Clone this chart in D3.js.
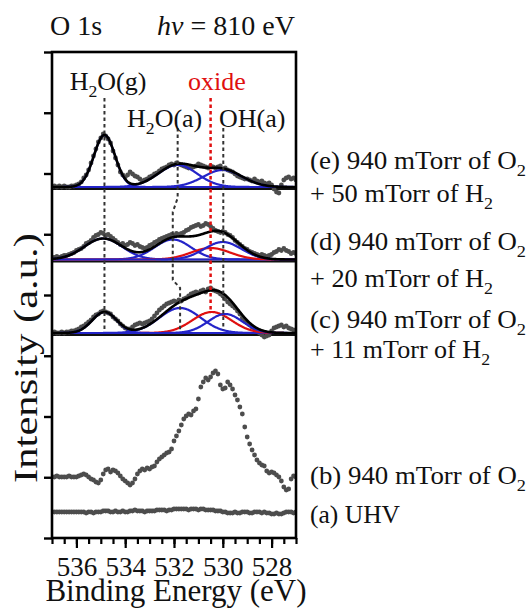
<!DOCTYPE html>
<html>
<head>
<meta charset="utf-8">
<script src="https://cdn.jsdelivr.net/npm/d3@7"></script>
<style>
  html, body { margin: 0; padding: 0; background: #fff; }
</style>
</head>
<body>
<svg id="chart" width="529" height="609"></svg>
<script>
const SERIF = "'Liberation Serif', 'Times New Roman', Times, 'Nimbus Roman', 'DejaVu Serif', serif";

// ---- measurement grid: binding energy from 537.0 eV downward in 0.1 eV steps
const eStart = 537.0, eStep = 0.1;

// ---- O 1s spectra (intensity above each trace's own baseline, a.u.)
// (a) UHV
const specUHV = [0,0,0,0,0,0,0,0,0,0,
  0,0,0,0,-1,0,0,-1,0,0,
  0,1,1,1,0,0,1,0,0,1,
  0,0,1,1,2,1,1,1,0,1,
  1,1,1,2,2,2,2,1,2,2,
  3,3,3,3,3,3,2,3,3,3,
  2,3,3,2,2,2,2,1,1,1,
  0,0,-1,-1,-1,0,-1,-1,0,0,
  0,-1,-1,0,0,0,-1,0,-1,-1,
  -2,-2,-1,-2,-2,-1,0,0,0,-1,0];
// (b) 940 mTorr O2
const specO2 = [0,0,1,0,0,0,0,1,0,0,
  0,1,2,3,2,0,-2,-3,-5,-6,
  -3,3,7,8,5,7,6,4,1,-2,
  -4,-6,-8,-6,-2,3,6,8,7,9,
  8,10,11,15,18,20,22,24,25,28,
  36,41,46,52,58,61,63,62,66,68,
  78,90,95,99,97,100,104,106,103,92,
  88,89,95,92,88,82,77,70,63,50,
  40,33,27,22,17,14,12,11,6,4,
  5,4,2,0,-4,-10,-13,-12,-2,1,0];
// (c) O2 + 11 mTorr H2
const specH2_11 = [0,1,0,0,1,0,1,1,2,2,
  3,4,6,7,9,11,13,16,18,19,
  21,22,21,20,19,16,14,12,9,7,
  5,4,4,6,8,9,10,9,10,11,
  12,14,17,20,23,25,27,29,30,31,
  32,31,33,32,34,35,37,39,40,41,
  40,42,43,41,44,45,43,42,41,39,
  37,34,31,29,27,25,22,19,15,12,
  10,8,6,4,2,0,-2,-4,-3,-2,
  2,5,6,7,8,6,7,5,4,3,2];
// (d) O2 + 20 mTorr H2
const specH2_20 = [2,2,3,2,3,4,4,5,6,7,
  9,10,11,13,16,17,19,22,24,25,
  27,26,24,25,23,21,19,17,15,16,
  14,15,17,16,14,15,13,12,11,12,
  14,15,17,18,20,21,22,23,24,25,
  24,26,25,26,27,29,30,32,33,34,
  35,33,34,36,35,33,31,29,28,27,
  28,27,25,24,22,19,17,15,13,11,
  10,8,7,6,5,4,5,4,3,4,
  5,7,8,10,9,11,9,8,6,7,6];
// (e) O2 + 50 mTorr H2
const specH2_50 = [0,1,0,1,0,1,0,0,1,1,
  2,3,5,9,12,17,24,31,38,45,
  49,53,51,48,44,36,29,22,15,12,
  10,12,15,13,11,10,8,6,7,8,
  10,11,13,14,16,18,19,20,22,23,
  22,24,23,22,21,20,19,19,20,21,
  23,22,21,20,19,21,20,19,20,21,
  18,19,17,16,15,13,11,10,9,8,
  8,7,6,8,6,5,6,4,3,4,
  2,-2,-5,-6,2,7,9,10,8,9,7];

// vertical offset of each trace in the stack (a.u.)
const traceOffsets = [26, 61, 205, 278.5, 351];

// ---- Gaussian fit components: H2O(g), H2O(a), oxide, OH(a)
const peakColors = ["#2424c8", "#2424c8", "#e01010", "#2424c8"];
const centersC = [534.85, 531.75, 530.45, 529.9];
const heightsC = [21, 25, 21, 19];
const widthsC  = [0.5, 0.85, 0.8, 0.7];
const centersD = [534.9, 532.05, 530.5, 530.0];
const heightsD = [21, 20, 11.5, 17.5];
const widthsD  = [0.78, 0.75, 0.8, 0.76];
const centersE = [534.85, 531.85, 530.5, 530.0];
const heightsE = [52, 22, 0, 17];
const widthsE  = [0.43, 0.8, 0.8, 0.8];

// ---- peak-position guides (energy, a.u.)
const guideH2Og  = [[534.85, 440], [534.85, 208]];
const guideH2Oa  = [[531.85, 410], [531.85, 340], [532.05, 326], [532.05, 258], [531.75, 250], [531.75, 208]];
const guideOxide = [[530.5, 440], [530.5, 226]];
const guideOH    = [[529.98, 410], [529.98, 208]];

// ---- axis ticks
const xMajorTicks = [536, 534, 532, 530, 528];
const xMinorTicks = d3.range(527, 537.001, 0.5);
const yTicks = d3.range(0, 487, 486 / 8);

// ---- condition labels (baseline, text, subscript, drawn length)
const condLabels = [
  [169, "(e) 940 mTorr of O", "2", 216],
  [202, "+ 50 mTorr of H", "2", 183],
  [250, "(d) 940 mTorr of O", "2", 216],
  [287, "+ 20 mTorr of H", "2", 183],
  [328, "(c) 940 mTorr of O", "2", 216],
  [358, "+ 11 mTorr of H", "2", 180],
  [484, "(b) 940 mTorr of O", "2", 216],
  [523, "(a) UHV", "", 90]
];

const svg = d3.select("#chart").attr("font-family", SERIF);
const x = d3.scaleLinear().domain([537, 527]).range([52, 296]);
const y = d3.scaleLinear().domain([0, 486]).range([538, 52]);

const energies = specUHV.map((_, i) => +(eStart - i * eStep).toFixed(1));
const spectra = [specUHV, specO2, specH2_11, specH2_20, specH2_50];

svg.append("defs").append("clipPath").attr("id", "plotClip")
  .append("rect").attr("x", 52).attr("y", 52).attr("width", 244).attr("height", 486);

const plot = svg.append("g").attr("clip-path", "url(#plotClip)");

const fitSets = [
  { base: traceOffsets[2], c: centersC, h: heightsC, w: widthsC },
  { base: traceOffsets[3], c: centersD, h: heightsD, w: widthsD },
  { base: traceOffsets[4], c: centersE, h: heightsE, w: widthsE }
];
const fineE = d3.range(527, 537.0001, 0.02);
const gauss = (e, c, h, w) => h * Math.exp(-((e - c) ** 2) / (2 * w * w));

// panel separators and fitted backgrounds
fitSets.forEach(fs => {
  plot.append("line")
    .attr("x1", 52).attr("x2", 296)
    .attr("y1", y(fs.base) + 2).attr("y2", y(fs.base) + 2)
    .attr("stroke", "#111").attr("stroke-width", 2.2);
  plot.append("line")
    .attr("x1", 52).attr("x2", 296)
    .attr("y1", y(fs.base)).attr("y2", y(fs.base))
    .attr("stroke", "#8a8a8a").attr("stroke-width", 2.2);
});

// measured points
spectra.forEach((sp, k) => {
  plot.append("g").selectAll("circle")
    .data(sp)
    .join("circle")
    .attr("cx", (d, i) => x(energies[i]))
    .attr("cy", d => y(traceOffsets[k] + d))
    .attr("r", 2.4)
    .attr("fill", "#4d4d4d");
});

// fit components and envelopes
const lineGen = d3.line().x(d => x(d[0])).y(d => y(d[1]));
fitSets.forEach(fs => {
  fs.c.forEach((c, k) => {
    if (fs.h[k] <= 0) return;
    plot.append("path")
      .attr("d", lineGen(fineE.map(e => [e, fs.base + gauss(e, c, fs.h[k], fs.w[k])])))
      .attr("fill", "none").attr("stroke", peakColors[k]).attr("stroke-width", 2.2);
  });
  plot.append("path")
    .attr("d", lineGen(fineE.map(e => [e, fs.base + d3.sum(fs.c, (c, k) => gauss(e, c, fs.h[k], fs.w[k]))])))
    .attr("fill", "none").attr("stroke", "#000").attr("stroke-width", 2.6);
});

// peak-position guides
[[guideH2Og, "#333"], [guideH2Oa, "#333"], [guideOH, "#333"], [guideOxide, "#e01010"]].forEach(([pts, col]) => {
  svg.append("path")
    .attr("d", lineGen(pts))
    .attr("fill", "none").attr("stroke", col)
    .attr("stroke-width", col === "#333" ? 2 : 2.5)
    .attr("stroke-dasharray", "3.5,3");
});

// frame
svg.append("rect").attr("x", 52).attr("y", 52).attr("width", 244).attr("height", 486)
  .attr("fill", "none").attr("stroke", "#000").attr("stroke-width", 2.6);

// y ticks (no labels)
const yAxis = svg.append("g").attr("transform", "translate(52,0)")
  .call(d3.axisLeft(y).tickValues(yTicks).tickSize(8).tickFormat(""));
yAxis.select(".domain").remove();
yAxis.selectAll("line").attr("stroke", "#000").attr("stroke-width", 2.4);

// x axis: minor then major ticks
const xMinor = svg.append("g").attr("transform", "translate(0,538)")
  .call(d3.axisBottom(x).tickValues(xMinorTicks).tickSize(6).tickFormat(""));
xMinor.select(".domain").remove();
xMinor.selectAll("line").attr("stroke", "#000").attr("stroke-width", 2.2);

const xMajor = svg.append("g").attr("transform", "translate(0,538)")
  .call(d3.axisBottom(x).tickValues(xMajorTicks).tickSize(10).tickFormat(d3.format("d")));
xMajor.attr("font-family", SERIF).attr("font-size", 27);
xMajor.select(".domain").remove();
xMajor.selectAll("line").attr("stroke", "#000").attr("stroke-width", 2.2);
xMajor.selectAll("text")
  .attr("y", 38).attr("dy", 0)
  .style("font-family", SERIF).style("font-size", "27px").attr("fill", "#111");

// axis titles
svg.append("text").attr("x", 176).attr("y", 601).attr("text-anchor", "middle")
  .style("font-family", SERIF).attr("font-size", 31).attr("fill", "#111")
  .text("Binding Energy (eV)");
svg.append("text")
  .attr("transform", "translate(37,358) rotate(-90)")
  .attr("text-anchor", "middle").attr("font-size", 34).attr("fill", "#111")
  .style("font-family", SERIF)
  .attr("textLength", 250).attr("lengthAdjust", "spacingAndGlyphs")
  .text("Intensity (a.u.)");

// header
svg.append("text").attr("x", 50).attr("y", 35).attr("font-size", 28).attr("fill", "#111")
  .style("font-family", SERIF).text("O 1s");
const hv = svg.append("text").attr("x", 157).attr("y", 35).attr("font-size", 28)
  .attr("fill", "#111").style("font-family", SERIF);
hv.append("tspan").attr("font-style", "italic").text("hv");
hv.append("tspan").text(" = 810 eV");

// helper: text with subscripts
function subText(xp, yp, pieces, size, color, anchor, len) {
  const t = svg.append("text").attr("x", xp).attr("y", yp)
    .attr("font-size", size).attr("text-anchor", anchor || "start")
    .attr("fill", color || "#111").style("font-family", SERIF);
  if (len) t.attr("textLength", len).attr("lengthAdjust", "spacingAndGlyphs");
  let shifted = false;
  pieces.forEach(([str, isSub]) => {
    if (!str) return;
    const ts = t.append("tspan").text(str);
    if (isSub && !shifted) { ts.attr("font-size", size * 0.68).attr("dy", size * 0.28); shifted = true; }
    else if (!isSub && shifted) { ts.attr("dy", -size * 0.28); shifted = false; }
  });
  return t;
}

// peak names
subText(108, 90, [["H"], ["2", 1], ["O(g)"]], 26, null, "middle");
subText(217, 90, [["oxide"]], 26, "#e01010", "middle");
subText(127, 127, [["H"], ["2", 1], ["O(a)"]], 26, null, "start");
subText(219, 127, [["OH(a)"]], 26, null, "start");

// condition labels
condLabels.forEach(([yp, main, sub, len]) => {
  subText(310, yp, [[main], [sub, 1]], 26, null, "start", len);
});
</script>
</body>
</html>
